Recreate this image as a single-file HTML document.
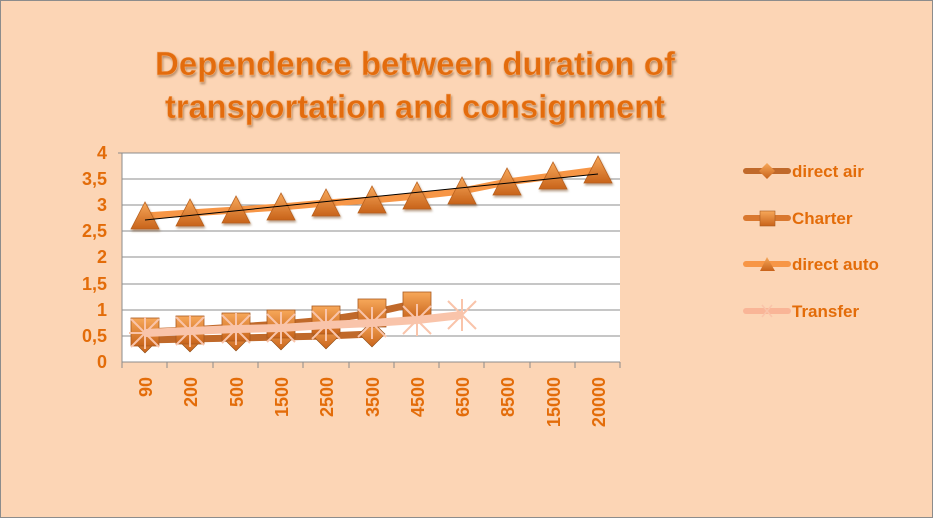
<!DOCTYPE html>
<html><head><meta charset="utf-8"><style>
body{margin:0;background:#fcd5b5;}
svg{display:block;font-family:"Liberation Sans",sans-serif;}
</style></head><body>
<svg width="933" height="518" viewBox="0 0 933 518">
<defs>
<linearGradient id="g" x1="0" y1="0" x2="0" y2="1"><stop offset="0" stop-color="#f7a85a"/><stop offset="1" stop-color="#c8631a"/></linearGradient>
<filter id="sh"><feDropShadow dx="1" dy="2" stdDeviation="1" flood-color="#7a4a20" flood-opacity="0.5"/></filter>
</defs>
<rect x="0.5" y="0.5" width="932" height="517" fill="#fcd5b5" stroke="#8c8c8c"/>
<g font-size="33" font-weight="bold" fill="#e36c09" text-anchor="middle" filter="url(#sh)" stroke="#f4b07a" stroke-width="0.5">
<text x="415" y="75" textLength="520" lengthAdjust="spacingAndGlyphs">Dependence between duration of</text>
<text x="415" y="118" textLength="500" lengthAdjust="spacingAndGlyphs">transportation and consignment</text>
</g>
<rect x="122" y="153" width="498" height="209" fill="#fff"/>
<g stroke="#8c8c8c" stroke-width="1">
<line x1="122" y1="153" x2="620" y2="153"/><line x1="122" y1="179" x2="620" y2="179"/>
<line x1="122" y1="205" x2="620" y2="205"/><line x1="122" y1="231" x2="620" y2="231"/>
<line x1="122" y1="257" x2="620" y2="257"/><line x1="122" y1="284" x2="620" y2="284"/>
<line x1="122" y1="310" x2="620" y2="310"/><line x1="122" y1="336" x2="620" y2="336"/>
<line x1="122" y1="362" x2="620" y2="362"/><line x1="122" y1="153" x2="122" y2="362"/>
<line x1="118" y1="153" x2="122" y2="153"/>
</g>
<g stroke="#8c8c8c"><line x1="122" y1="362" x2="122" y2="368"/><line x1="167" y1="362" x2="167" y2="368"/><line x1="213" y1="362" x2="213" y2="368"/><line x1="258" y1="362" x2="258" y2="368"/><line x1="303" y1="362" x2="303" y2="368"/><line x1="349" y1="362" x2="349" y2="368"/><line x1="394" y1="362" x2="394" y2="368"/><line x1="439" y1="362" x2="439" y2="368"/><line x1="484" y1="362" x2="484" y2="368"/><line x1="530" y1="362" x2="530" y2="368"/><line x1="575" y1="362" x2="575" y2="368"/><line x1="620" y1="362" x2="620" y2="368"/></g>
<g font-size="18" font-weight="bold" fill="#e36c09" text-anchor="end">
<text x="107" y="159">4</text><text x="107" y="185">3,5</text><text x="107" y="211">3</text><text x="107" y="237">2,5</text><text x="107" y="263">2</text><text x="107" y="290">1,5</text><text x="107" y="316">1</text><text x="107" y="342">0,5</text><text x="107" y="368">0</text>
</g>
<g font-size="18" font-weight="bold" fill="#e36c09" text-anchor="end">
<text transform="translate(152,377) rotate(-90)">90</text>
<text transform="translate(197,377) rotate(-90)">200</text>
<text transform="translate(243,377) rotate(-90)">500</text>
<text transform="translate(288,377) rotate(-90)">1500</text>
<text transform="translate(333,377) rotate(-90)">2500</text>
<text transform="translate(379,377) rotate(-90)">3500</text>
<text transform="translate(424,377) rotate(-90)">4500</text>
<text transform="translate(469,377) rotate(-90)">6500</text>
<text transform="translate(514,377) rotate(-90)">8500</text>
<text transform="translate(560,377) rotate(-90)">15000</text>
<text transform="translate(605,377) rotate(-90)">20000</text>
</g>
<polyline fill="none" stroke="#f79646" stroke-width="7" stroke-linejoin="round" points="145,216 190,213 236,210 281,207 326,203 372,200 417,196 462,191 507,182 553,176 598,170"/>
<g fill="url(#g)" stroke="#b8601e" stroke-width="0.8" filter="url(#sh)">
<polygon points="145,202 131,229 159,229"/><polygon points="190,199 176,226 204,226"/><polygon points="236,196 222,223 250,223"/><polygon points="281,193 267,220 295,220"/><polygon points="326,189 312,216 340,216"/><polygon points="372,186 358,213 386,213"/><polygon points="417,182 403,209 431,209"/><polygon points="462,177 448,204 476,204"/><polygon points="507,168 493,195 521,195"/><polygon points="553,162 539,189 567,189"/><polygon points="598,156 584,183 612,183"/>
</g>
<line x1="145" y1="220" x2="598" y2="174" stroke="#000" stroke-width="1"/>
<polyline fill="none" stroke="#c0692a" stroke-width="7" points="145,340 190,339 236,338 281,337 326,336 372,334"/>
<g fill="url(#g)" stroke="#8a4a15" stroke-width="0.6">
<polygon points="145,327 158,340 145,353 132,340"/><polygon points="190,326 203,339 190,352 177,339"/><polygon points="236,325 249,338 236,351 223,338"/><polygon points="281,324 294,337 281,350 268,337"/><polygon points="326,323 339,336 326,349 313,336"/><polygon points="372,321 385,334 372,347 359,334"/>
</g>
<polyline fill="none" stroke="#c0692a" stroke-width="7" points="145,332 190,330 236,327 281,324 326,320 372,313 417,303"/>
<g fill="url(#g)" stroke="#a85a20" stroke-width="0.8">
<rect x="131" y="318" width="28" height="28"/><rect x="176" y="316" width="28" height="28"/><rect x="222" y="313" width="28" height="28"/><rect x="267" y="310" width="28" height="28"/><rect x="312" y="306" width="28" height="28"/><rect x="358" y="299" width="28" height="28"/><rect x="403" y="292" width="28" height="28"/>
</g>
<polyline fill="none" stroke="#f9c4aa" stroke-width="8" stroke-linejoin="round" points="145,333 190,331 236,329 281,328 326,325 372,323 417,320 462,315"/>
<g stroke="#f9c4aa" stroke-width="2">
<path d="M131,319L159,347M159,319L131,347M145,317V349M129,333H161"/>
<path d="M176,317L204,345M204,317L176,345M190,315V347"/>
<path d="M222,315L250,343M250,315L222,343M236,313V345"/>
<path d="M267,314L295,342M295,314L267,342M281,312V344"/>
<path d="M312,311L340,339M340,311L312,339M326,309V341"/>
<path d="M358,309L386,337M386,309L358,337M372,307V339"/>
<path d="M403,306L431,334M431,306L403,334M417,304V336"/>
<path d="M448,301L476,329M476,301L448,329M462,299V331"/>
</g>
<g font-size="17" font-weight="bold" fill="#e36c09">
<line x1="746" y1="171" x2="788" y2="171" stroke="#c0692a" stroke-width="6" stroke-linecap="round"/>
<polygon points="767,163 775,171 767,179 759,171" fill="url(#g)"/>
<text x="792" y="177">direct air</text>
<line x1="746" y1="218" x2="788" y2="218" stroke="#d9782f" stroke-width="6" stroke-linecap="round"/>
<rect x="760" y="211" width="15" height="15" fill="url(#g)" stroke="#a85a20" stroke-width="0.6"/>
<text x="792" y="224">Charter</text>
<line x1="746" y1="264" x2="788" y2="264" stroke="#f79646" stroke-width="6" stroke-linecap="round"/>
<polygon points="767,257 760,271 775,271" fill="url(#g)"/>
<text x="792" y="270">direct auto</text>
<line x1="746" y1="311" x2="788" y2="311" stroke="#f9b597" stroke-width="6" stroke-linecap="round"/>
<path d="M762,305L772,317M772,305L762,317" stroke="#f9c4aa" stroke-width="1.5"/>
<text x="792" y="317">Transfer</text>
</g>
</svg>
</body></html>
